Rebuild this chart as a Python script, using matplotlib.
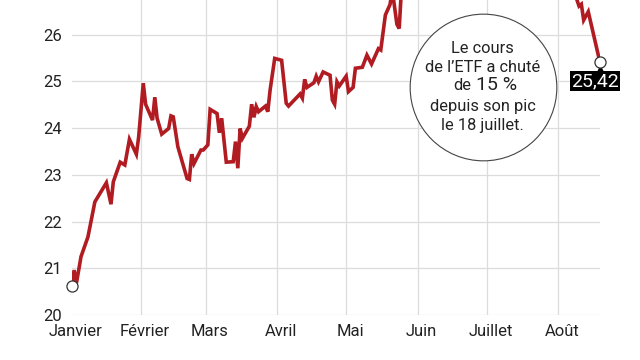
import matplotlib
matplotlib.use("Agg")
import matplotlib.pyplot as plt
import matplotlib.transforms as mtransforms
import pandas as pd

# cours de l'ETF (les valeurs hors cadre sont estimées)
dates = [
    "2025-01-02", "2025-01-03", "2025-01-04", "2025-01-06", "2025-01-09",
    "2025-01-12", "2025-01-17", "2025-01-19", "2025-01-20", "2025-01-23",
    "2025-01-25", "2025-01-27", "2025-01-30", "2025-01-31", "2025-02-02",
    "2025-02-03", "2025-02-06", "2025-02-07", "2025-02-08", "2025-02-10",
    "2025-02-13", "2025-02-14", "2025-02-15", "2025-02-17", "2025-02-21",
    "2025-02-22", "2025-02-23", "2025-02-24", "2025-02-27", "2025-02-28",
    "2025-03-02", "2025-03-03", "2025-03-06", "2025-03-07", "2025-03-08",
    "2025-03-10", "2025-03-13", "2025-03-14", "2025-03-15", "2025-03-16",
    "2025-03-17", "2025-03-20", "2025-03-21", "2025-03-22", "2025-03-23",
    "2025-03-24", "2025-03-27", "2025-03-28", "2025-03-29", "2025-03-31",
    "2025-04-03", "2025-04-05", "2025-04-06", "2025-04-11", "2025-04-12",
    "2025-04-13", "2025-04-14", "2025-04-17", "2025-04-18", "2025-04-19",
    "2025-04-21", "2025-04-24", "2025-04-25", "2025-04-26", "2025-04-27",
    "2025-04-28", "2025-05-01", "2025-05-02", "2025-05-04", "2025-05-05",
    "2025-05-08", "2025-05-10", "2025-05-12", "2025-05-15", "2025-05-16",
    "2025-05-18", "2025-05-20", "2025-05-21", "2025-05-23", "2025-05-24",
    "2025-05-25", "2025-06-02", "2025-06-12", "2025-06-20", "2025-07-01",
    "2025-07-09", "2025-07-18", "2025-07-24", "2025-07-31", "2025-08-06",
    "2025-08-08", "2025-08-10", "2025-08-11", "2025-08-12", "2025-08-14",
    "2025-08-19",
]
values = [
    20.63, 20.96, 20.68, 21.25, 21.67,
    22.42, 22.83, 22.37, 22.85, 23.27,
    23.21, 23.76, 23.44, 23.81, 24.96,
    24.51, 24.17, 24.66, 24.21, 23.87,
    23.99, 24.26, 24.24, 23.60, 22.92,
    22.90, 23.44, 23.24, 23.53, 23.53,
    23.64, 24.40, 24.31, 23.90, 24.21,
    23.27, 23.28, 23.71, 23.14, 23.99,
    23.78, 24.04, 24.51, 24.23, 24.46,
    24.35, 24.47, 24.35, 24.81, 25.49,
    25.45, 24.53, 24.47, 24.73, 24.64,
    25.04, 24.87, 24.97, 25.11, 24.99,
    25.20, 25.13, 24.60, 24.51, 24.99,
    24.90, 25.11, 24.78, 24.87, 25.28,
    25.30, 25.56, 25.37, 25.70, 25.67,
    26.42, 26.64, 26.95, 26.22, 26.13,
    27.00, 27.60, 28.10, 27.90, 28.70,
    29.30, 29.91, 29.00, 28.20, 27.30,
    26.90, 26.61, 26.65, 26.31, 26.49,
    25.42,
]

month_ticks = ["2025-02-01", "2025-03-01", "2025-04-01", "2025-05-01",
               "2025-06-01", "2025-07-01", "2025-08-01"]
month_labels = ["Janvier", "Février", "Mars", "Avril", "Mai", "Juin", "Juillet", "Août"]
y_ticks = [20, 21, 22, 23, 24, 25, 26]

last_label = "25,42"
note_lines = ["Le cours", "de l\u2019ETF a chuté", None, "depuis son pic", "le 18 juillet."]
note_big = "15 %"

RED = "#b01c22"
GRID = "#dcdcdc"
TXT = "#222222"

plt.rcParams["font.family"] = ["Roboto", "DejaVu Sans"]

x = pd.to_datetime(dates)
ticks = pd.to_datetime([dates[0]] + month_ticks)

fig = plt.figure(figsize=(6.4, 3.6), dpi=100)
ax = fig.add_axes([71.8 / 640, 45 / 360, 528 / 640, 315 / 360])

ax.plot(x, values, color=RED, lw=2.6, solid_joinstyle="miter", zorder=3)

# points de début et de fin
ax.plot(x[[0, -1]], [values[0], values[-1]], "o", ms=8, mfc="white",
        mec="#333333", mew=0.9, zorder=5, clip_on=False)

ax.set_xlim(x[0], x[-1])
ax.set_ylim(20, 26.74)

ax.set_xticks(ticks)
ax.set_xticklabels(month_labels)
ax.set_yticks(y_ticks)
ax.set_yticklabels([str(v) for v in y_ticks])
ax.tick_params(length=0, labelsize=12, labelcolor=TXT)
ax.tick_params(axis="y", pad=7)
ax.tick_params(axis="x", pad=6.5)
for lab in ax.get_xticklabels():
    lab.set_transform(lab.get_transform() + mtransforms.ScaledTranslation(4 / 100, 0, fig.dpi_scale_trans))

ax.grid(True, color=GRID, lw=0.9)
ax.set_axisbelow(True)
ax.get_xgridlines()[0].set_visible(False)
for s in ax.spines.values():
    s.set_visible(False)

# étiquette de la dernière valeur
tri = ax.transData + mtransforms.ScaledTranslation(0, -7.5 / 100, fig.dpi_scale_trans)
ax.plot([x[-1]], [values[-1]], marker="^", ms=5, color="black", transform=tri, zorder=4, clip_on=False)
ax.annotate(last_label, (x[-1], values[-1]), xytext=(-3.3, -14), textcoords="offset points",
            ha="center", va="center", color="white", fontsize=14, zorder=6,
            bbox=dict(boxstyle="square,pad=0.05", fc="black", ec="none"))

# bulle de commentaire
cx, cy = 0.778, 0.724
ax.plot([cx], [cy], "o", transform=ax.transAxes, ms=105.6, mfc="white",
        mec="#444444", mew=0.8, zorder=4)
ys = [0.847, 0.785, 0.727, 0.663, 0.603]
for line, yy in zip(note_lines, ys):
    if line is None:
        ax.text(0.757, yy, "de", transform=ax.transAxes, ha="right", va="center",
                fontsize=11.8, color=TXT, zorder=5)
        ax.text(0.765, yy + 0.003, note_big, transform=ax.transAxes, ha="left", va="center",
                fontsize=14, color=TXT, zorder=5)
    else:
        ax.text(cx, yy, line, transform=ax.transAxes, ha="center", va="center",
                fontsize=11.8, color=TXT, zorder=5)

fig.savefig("out.png", dpi=100)
